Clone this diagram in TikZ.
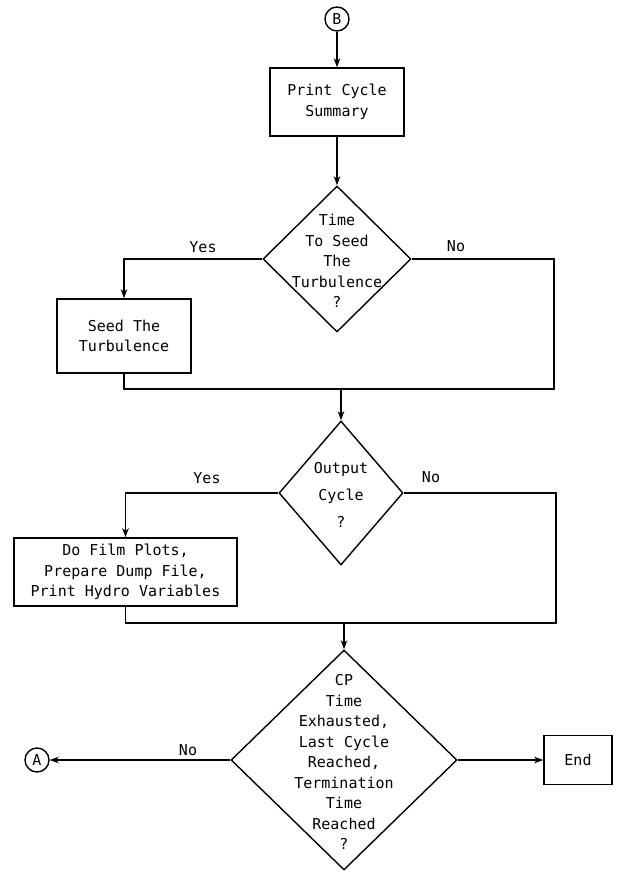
\documentclass[tikz,border=0pt]{standalone}
\usepackage{fontspec}
\setmainfont{DejaVu Sans Mono}
\usetikzlibrary{shapes.geometric,arrows.meta}
\begin{document}
\begin{tikzpicture}[x=1pt,y=-1pt,
  every node/.style={font=\fontsize{15}{20.5}\selectfont},
  line/.style={line width=1.4pt},
  arr/.style={line width=1.4pt,-{Stealth[length=9pt,width=6.5pt,inset=2.5pt]}},
  proc/.style={draw,line width=1.4pt,rectangle,inner sep=0pt,align=center},
  dec/.style={draw,line width=1.4pt,diamond,inner sep=0pt},
  conn/.style={draw,line width=1.4pt,circle,inner sep=0pt,minimum size=24pt},
  txt/.style={align=center,inner sep=0pt},
  lab/.style={inner sep=0pt}]
\useasboundingbox (0,0) rectangle (616,874);

% top
\node[conn] (B) at (337,19) {B};
\node[proc,minimum width=134pt,minimum height=68pt] (print) at (337,102) {Print Cycle\\Summary};
\draw[arr] (B) -- (print);

% decision 1
\node[dec,minimum width=148pt,minimum height=146pt] (d1) at (337,259) {};
\node[txt] (d1t) at (337,261) {Time\\To Seed\\The\\Turbulence\\?};
\draw[arr] (print) -- (d1);

\node[proc,minimum width=134pt,minimum height=74pt] (seed) at (124,336) {Seed The\\Turbulence};
\draw[arr] (d1.west) -| (seed.north);
\node[lab] (yes1) at (203,247) {Yes};
\node[lab] (no1) at (456,246) {No};

\coordinate (r1) at (554,389);
\coordinate (m1) at (341,389);
\draw[line] (seed.south) |- (r1) |- (d1.east);

% decision 2
\node[dec,minimum width=124pt,minimum height=144pt] (d2) at (341,493) {};
\node[txt,font=\fontsize{15}{27}\selectfont] (d2t) at (341,495) {Output\\Cycle\\?};
\draw[arr] (m1) -- (d2);

\node[proc,minimum width=223pt,minimum height=68pt] (film) at (125.5,572) {Do Film Plots,\\Prepare Dump File,\\Print Hydro Variables};
\draw[arr] (d2.west) -| (film.north);
\node[lab] (yes2) at (207,478) {Yes};
\node[lab] (no2) at (431,477) {No};

\coordinate (r2) at (556,623);
\coordinate (m2) at (344,623);
\draw[line] (film.south) |- (r2) |- (d2.east);

% decision 3
\node[dec,minimum width=226pt,minimum height=220pt] (d3) at (344,760) {};
\node[txt] (d3t) at (344,762) {CP\\Time\\Exhausted,\\Last Cycle\\Reached,\\Termination\\Time\\Reached\\?};
\draw[arr] (m2) -- (d3);

\node[conn] (A) at (37,760) {A};
\draw[arr] (d3.west) -- (A);
\node[lab] (no3) at (188,750) {No};

\node[proc,minimum width=68pt,minimum height=49pt] (end) at (578,760) {End};
\draw[arr] (d3.east) -- (end.west);
\end{tikzpicture}
\end{document}
